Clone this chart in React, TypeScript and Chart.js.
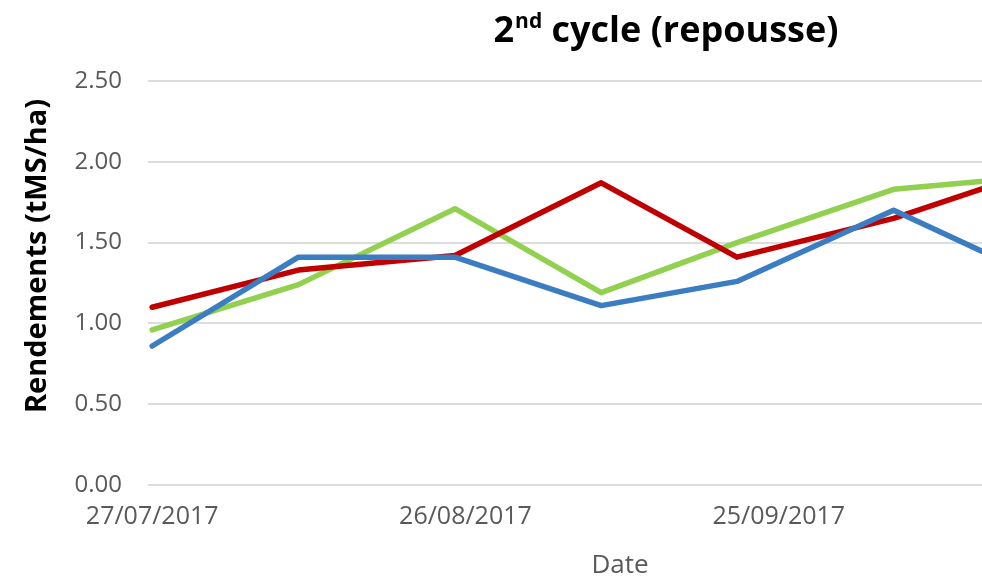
import React, { useEffect, useRef } from "react";
import { Chart, registerables } from "chart.js";

Chart.register(...registerables);

// ---- data ----
const startDate = "2017-07-27";
const sampleDates = ["2017-07-27", "2017-08-10", "2017-08-25", "2017-09-08", "2017-09-21", "2017-10-06", "2017-10-25"];
const seriesBlue = [0.86, 1.41, 1.41, 1.11, 1.26, 1.70, 1.13];
const seriesRed = [1.10, 1.33, 1.42, 1.87, 1.41, 1.65, 2.06];
const seriesGreen = [0.96, 1.24, 1.71, 1.19, 1.50, 1.83, 1.94];
const yTicks = [0, 0.5, 1.0, 1.5, 2.0, 2.5];
const xTickDays = [0, 30, 60, 90];
const titleMain = "2";
const titleSup = "nd";
const titleRest = " cycle (repousse)";
const yTitle = "Rendements (tMS/ha)";
const xTitle = "Date";

const DAY = 86400000;
const t0 = Date.parse(startDate + "T00:00:00Z");
const toDay = (d: string) => (Date.parse(d + "T00:00:00Z") - t0) / DAY;
const fmt = (day: number) => {
  const d = new Date(t0 + day * DAY);
  const dd = String(d.getUTCDate()).padStart(2, "0");
  const mm = String(d.getUTCMonth() + 1).padStart(2, "0");
  return `${dd}/${mm}/${d.getUTCFullYear()}`;
};
const pts = (vals: number[]) => vals.map((v, i) => ({ x: toDay(sampleDates[i]), y: v }));

const FONT = "'Open Sans', 'DejaVu Sans', sans-serif";
const W = 1332;
const H = 578;

const textPlugin = {
  id: "texts",
  afterDraw(chart: any) {
    const ctx = chart.ctx as CanvasRenderingContext2D;
    const area = chart.chartArea;
    ctx.save();
    // main title with superscript
    const big = `bold 36px ${FONT}`;
    const small = `bold 21px ${FONT}`;
    ctx.font = big;
    const w1 = ctx.measureText(titleMain).width;
    const w3 = ctx.measureText(titleRest).width;
    ctx.font = small;
    const w2 = ctx.measureText(titleSup).width + 1;
    const total = w1 + w2 + w3;
    let x = W / 2 - total / 2;
    const base = 42;
    ctx.fillStyle = "#000000";
    ctx.textBaseline = "alphabetic";
    ctx.textAlign = "left";
    ctx.font = big;
    ctx.fillText(titleMain, x, base);
    x += w1 + 1;
    ctx.font = small;
    ctx.fillText(titleSup, x, base - 14);
    x += w2 - 1;
    ctx.font = big;
    ctx.fillText(titleRest, x, base);

    // y title
    ctx.save();
    ctx.translate(38, 256);
    ctx.rotate(-Math.PI / 2);
    ctx.font = `bold 29px ${FONT}`;
    ctx.textAlign = "center";
    ctx.textBaseline = "middle";
    ctx.fillStyle = "#000000";
    ctx.fillText(yTitle, 0, 0);
    ctx.restore();

    // x title
    ctx.font = `26px ${FONT}`;
    ctx.textAlign = "center";
    ctx.textBaseline = "alphabetic";
    ctx.fillStyle = "#595959";
    ctx.fillText(xTitle, (area.left + area.right) / 2, 573);
    ctx.restore();
  },
};

export default function App() {
  const ref = useRef<HTMLCanvasElement | null>(null);
  useEffect(() => {
    document.body.style.margin = "0";
    if (!ref.current) return;
    const chart = new Chart(ref.current, {
      type: "line",
      data: {
        datasets: [
          { label: "Série 1", data: pts(seriesBlue), borderColor: "#3a7dc2", backgroundColor: "#3a7dc2" },
          { label: "Série 2", data: pts(seriesRed), borderColor: "#c00000", backgroundColor: "#c00000" },
          { label: "Série 3", data: pts(seriesGreen), borderColor: "#92d050", backgroundColor: "#92d050" },
        ].map((d) => ({
          ...d,
          borderWidth: 5.5,
          pointRadius: 0,
          tension: 0,
          borderJoinStyle: "round" as const,
          borderCapStyle: "round" as const,
        })),
      },
      options: {
        animation: false,
        responsive: false,
        maintainAspectRatio: false,
        layout: { padding: { top: 81, right: 240, left: 0, bottom: 0 } },
        plugins: { legend: { display: false }, title: { display: false }, tooltip: { enabled: false } },
        scales: {
          x: {
            type: "linear",
            min: -0.4,
            max: 90,
            afterBuildTicks: (s: any) => {
              s.ticks = xTickDays.map((v) => ({ value: v }));
            },
            afterFit: (s: any) => {
              s.height = 93;
            },
            grid: { display: false, drawTicks: false },
            border: { display: false },
            ticks: {
              color: "#595959",
              font: { family: FONT, size: 25 },
              padding: 17,
              maxRotation: 0,
              autoSkip: false,
              callback: (v: any) => fmt(Number(v)),
            },
          },
          y: {
            min: 0,
            max: 2.5,
            afterBuildTicks: (s: any) => {
              s.ticks = yTicks.map((v) => ({ value: v }));
            },
            afterFit: (s: any) => {
              s.width = 148;
            },
            grid: { color: "#dcdcdc", lineWidth: 2, drawTicks: false },
            border: { display: false },
            ticks: {
              color: "#595959",
              font: { family: FONT, size: 24 },
              padding: 26,
              callback: (v: any) => Number(v).toFixed(2),
            },
          },
        },
      },
      plugins: [textPlugin],
    });
    return () => chart.destroy();
  }, []);
  return (
    <div style={{ width: 982, height: H, overflow: "hidden", position: "relative", background: "#fff" }}>
      <canvas ref={ref} width={W} height={H} style={{ width: W, height: H, display: "block" }} />
    </div>
  );
}
